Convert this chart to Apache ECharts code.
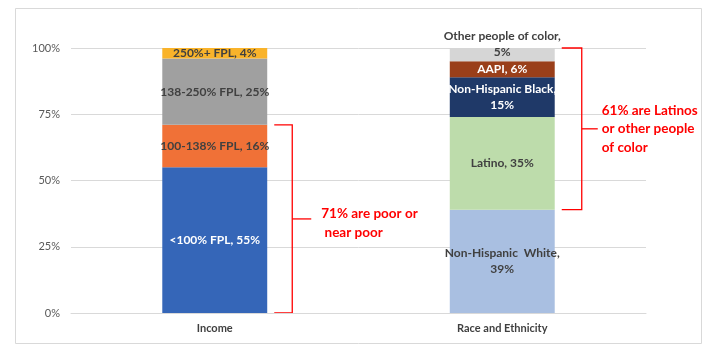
<!DOCTYPE html>
<html>
<head>
<meta charset="utf-8">
<script src="https://cdn.jsdelivr.net/npm/echarts@6/dist/echarts.min.js"></script>
<style>
  html, body { margin: 0; padding: 0; background: #fff; }
  #chart { width: 715px; height: 352px; }
</style>
</head>
<body>
<div id="chart"></div>
<script>
// data
var categories = ["Income", "Race and Ethnicity"];
var incomeNames = ["<100% FPL", "100-138% FPL", "138-250% FPL", "250%+ FPL"];
var incomeValues = [55, 16, 25, 4];
var raceNames = ["Non-Hispanic  White", "Latino", "Non-Hispanic Black", "AAPI", "Other people of color"];
var raceValues = [39, 35, 15, 6, 5];
var yTicks = [0, 25, 50, 75, 100];

var incomeColors = ["#3566B8", "#F07137", "#A0A0A0", "#F9B32A"];
var incomeText = ["#ffffff", "#404040", "#404040", "#404040"];
var raceColors = ["#A9BFE1", "#BDDCAB", "#1F3968", "#9A3F1A", "#D6D6D6"];
var raceText = ["#404040", "#404040", "#ffffff", "#ffffff", "#404040"];

var font = "Lato";

function makeSeries(name, value, catIndex, color, textColor) {
  var data = categories.map(function(c, i) { return i === catIndex ? value : "-"; });
  var long = name.length > 14;
  return {
    name: name,
    type: "bar",
    stack: "total",
    barWidth: "36.5%",
    data: data,
    itemStyle: { color: color },
    label: {
      show: true,
      position: "inside",
      offset: name === "Other people of color" ? [0, -11] : [0, 0],
      color: textColor,
      fontFamily: font,
      fontWeight: "bold",
      fontSize: 12,
      lineHeight: 16,
      formatter: function(p) {
        return name + (long ? ",\n" : ", ") + p.value + "%";
      }
    }
  };
}

var series = [];
incomeNames.forEach(function(n, i) {
  series.push(makeSeries(n, incomeValues[i], 0, incomeColors[i], incomeText[i]));
});
raceNames.forEach(function(n, i) {
  series.push(makeSeries(n, raceValues[i], 1, raceColors[i], raceText[i]));
});

var chart = echarts.init(document.getElementById("chart"));
chart.setOption({
  animation: false,
  backgroundColor: "#fff",
  grid: { left: 71, right: 69, top: 48, bottom: 39 },
  xAxis: {
    type: "category",
    data: categories,
    axisLine: { show: true, lineStyle: { color: "#D9D9D9" } },
    axisTick: { show: false },
    axisLabel: { color: "#404040", fontFamily: font, fontWeight: "bold", fontSize: 11, margin: 10 }
  },
  yAxis: {
    type: "value",
    min: yTicks[0],
    max: yTicks[yTicks.length - 1],
    interval: 25,
    axisLine: { show: false },
    axisTick: { show: false },
    splitLine: { lineStyle: { color: "#D9D9D9" } },
    axisLabel: { color: "#595959", fontFamily: font, fontSize: 11, margin: 11, formatter: "{value}%" }
  },
  series: series
});

// brackets, placed from the axis scales
function bracket(catIndex, fromVal, toVal, text, dx, tick, textDx, textDy) {
  var cx = chart.convertToPixel({ xAxisIndex: 0 }, catIndex);
  var barHalf = 52.5;
  var xr = cx + barHalf;
  var y1 = chart.convertToPixel({ yAxisIndex: 0 }, fromVal);
  var y2 = chart.convertToPixel({ yAxisIndex: 0 }, toVal);
  var xv = xr + dx;
  var ym = (y1 + y2) / 2;
  var red = "#FF0000";
  var st = { stroke: red, lineWidth: 1.3 };
  return [
    { type: "polyline", shape: { points: [[xr + 7, y1], [xv, y1], [xv, y2], [xr + 7, y2]] }, style: Object.assign({ fill: null }, st) },
    { type: "line", shape: { x1: xv, y1: ym, x2: xv + tick, y2: ym }, style: st },
    { type: "text", x: xv + textDx, y: ym + textDy, style: { text: text, fill: red, font: "bold 13.5px " + font, lineHeight: 18.5, verticalAlign: "middle" } }
  ];
}

var marks = []
  .concat(bracket(0, 0, incomeValues[0] + incomeValues[1], "71% are poor or\n near poor", 25, 19, 29, 4))
  .concat(bracket(1, raceValues[0], 100, "61% are Latinos\nor other people\nof color", 27, 16, 20, 0));
marks.push({ type: "rect", shape: { x: 15.5, y: 8.5, width: 686, height: 335 }, style: { fill: null, stroke: "#D9D9D9", lineWidth: 1 }, silent: true });

chart.setOption({ graphic: marks });
</script>
</body>
</html>
